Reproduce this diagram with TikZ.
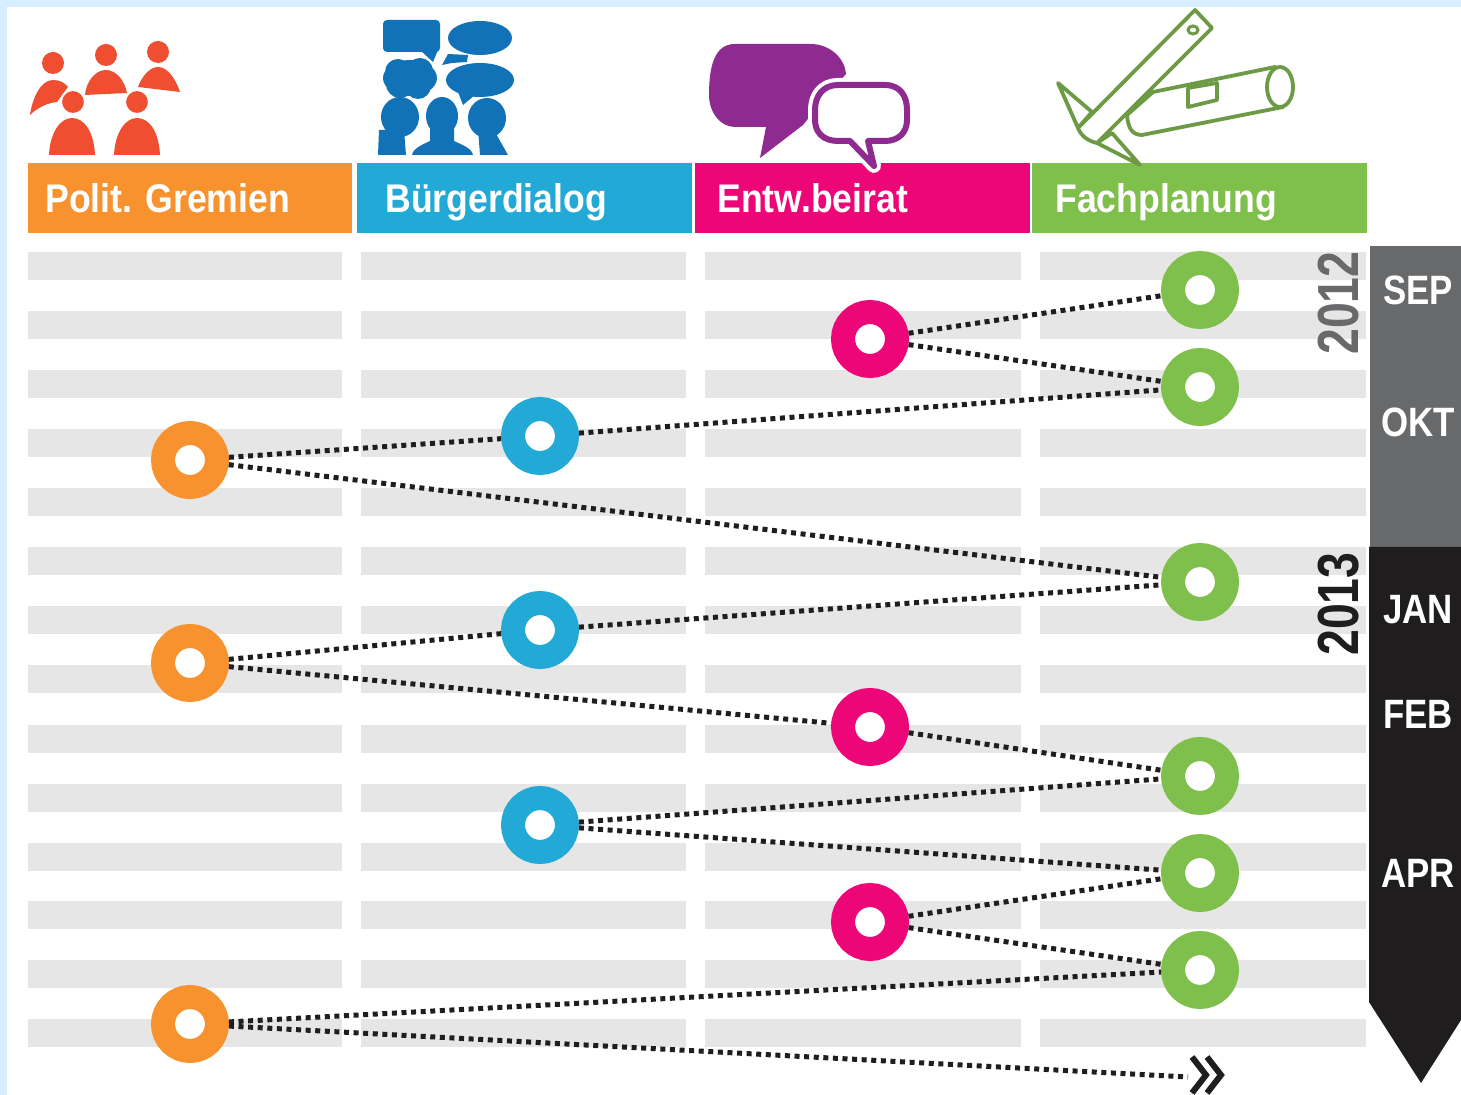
\documentclass[tikz,border=0pt]{standalone}
\usepackage{fontspec}
\setmainfont{Liberation Sans}
\newfontfamily\hdfont[FakeStretch=0.89]{Liberation Sans Bold}
\newfontfamily\mofont[FakeStretch=0.85]{Liberation Sans Bold}
\newfontfamily\yrfont[FakeStretch=0.8]{Liberation Sans Bold}
\definecolor{bgblue}{HTML}{D6EEFF}
\definecolor{cOr}{HTML}{F7922E}
\definecolor{cBl}{HTML}{22A9D6}
\definecolor{cPk}{HTML}{EC0677}
\definecolor{cGr}{HTML}{7FBF4B}
\definecolor{cBar}{HTML}{E6E6E6}
\definecolor{cPpl}{HTML}{EF4F30}
\definecolor{cTalk}{HTML}{1272B8}
\definecolor{cPur}{HTML}{8E2A90}
\definecolor{cTool}{HTML}{6D9B45}
\definecolor{cDark}{HTML}{1F1D1E}
\definecolor{cGrey}{HTML}{68696B}
\tikzset{
  ring/.style={circle,draw=#1,fill=white,line width=12pt,minimum size=27pt,inner sep=0pt},
  link/.style={line width=2.5pt,cDark,dash pattern=on 2.5pt off 2.3pt},
  headtext/.style={anchor=base west,text=white,inner sep=0pt,font=\hdfont\fontsize{20}{20}\selectfont},
  month/.style={text=white,inner sep=0pt,font=\mofont\fontsize{20.5}{20.5}\selectfont},
  yeartext/.style={rotate=90,inner sep=0pt,font=\yrfont\fontsize{29}{29}\selectfont},
  toolline/.style={draw=cTool,line width=1.9pt,line join=round,fill=white}
}
\begin{document}
\begin{tikzpicture}[x=0.5pt,y=-0.5pt]
\useasboundingbox (0,0) rectangle (1461,1095);
\fill[bgblue] (0,0) rectangle (1461,1095);
\fill[white] (7,7) rectangle (1461,1095);
% rows
\foreach \yy in {266,325,384,443,502,561,620,679,739,798,857,915,974,1033}{
  \fill[cBar] (28,\yy-14) rectangle (342,\yy+14);
  \fill[cBar] (361,\yy-14) rectangle (686,\yy+14);
  \fill[cBar] (705,\yy-14) rectangle (1021,\yy+14);
  \fill[cBar] (1040,\yy-14) rectangle (1366,\yy+14);
}
% header bars
\fill[cOr] (28,163) rectangle (352,233);
\fill[cBl] (357,163) rectangle (692,233);
\fill[cPk] (695,163) rectangle (1030,233);
\fill[cGr] (1032,163) rectangle (1367,233);
\node[headtext] (h1) at (45,213) {Polit. Gremien};
\node[headtext] (h2) at (385,213) {Bürgerdialog};
\node[headtext] (h3) at (717,213) {Entw.beirat};
\node[headtext] (h4) at (1055,213) {Fachplanung};
% people icon
\fill[cPpl] (53,63) circle (11) (106,55) circle (11) (158,52) circle (11);
\fill[cPpl] (30,115) .. controls (32,100) and (40,80) .. (53,80) .. controls (60,80) and (65,83) .. (68,87) -- (57,102) .. controls (47,103) and (37,108) .. (30,115) -- cycle;
\fill[cPpl] (85,95) .. controls (86,82) and (95,70) .. (106,70) .. controls (117,70) and (125,82) .. (127,93) -- cycle;
\fill[cPpl] (138,87) .. controls (142,76) and (150,67) .. (158,67) .. controls (168,67) and (176,80) .. (180,92) -- cycle;
\fill[cPpl] (49,155) .. controls (50,133) and (60,118) .. (72,118) .. controls (85,118) and (94,133) .. (95,155) -- cycle;
\fill[cPpl] (114,155) .. controls (115,133) and (125,118) .. (137,118) .. controls (150,118) and (159,133) .. (160,155) -- cycle;
\path[fill=cPpl,draw=white,line width=1pt] (73,102) circle (12) (137,102) circle (12);
% talking icon
\fill[cTalk,rounded corners=2pt] (383,20) rectangle (440,52);
\fill[cTalk] (420,50) -- (433,62) -- (438,50) -- cycle;
\fill[cTalk] (480,38) ellipse (32 and 17);
\fill[cTalk] (442,65) -- (448,54) -- (468,55) -- (467,62) -- (452,63) -- cycle;
\fill[cTalk] (410,78) ellipse (27 and 18) (398,72) circle (13) (420,71) circle (13) (400,84) circle (14) (418,86) circle (13);
\fill[cTalk] (480,80) ellipse (34 and 17);
\fill[cTalk] (458,92) -- (475,95) -- (463,105) -- cycle;
\fill[cTalk] (400,117) ellipse (19 and 20);
\fill[cTalk] (378,155) -- (379,130) -- (404,130) -- (406,155) -- cycle;
\fill[cTalk] (442,116) ellipse (16 and 19);
\fill[cTalk] (412,155) .. controls (413,148) and (424,144) .. (430,141) -- (430,120) -- (454,120) -- (454,141) .. controls (460,144) and (472,148) .. (473,155) -- cycle;
\fill[cTalk] (487,118) ellipse (19 and 20);
\fill[cTalk] (478,128) -- (495,132) -- (508,155) -- (480,155) -- cycle;
% bubbles
\fill[cPur] (735,44) -- (810,44) .. controls (832,44) and (845,60) .. (846,74) -- (815,110) -- (803,125) -- (760,158) -- (766,127) -- (735,127) .. controls (720,127) and (709,112) .. (709,95) .. controls (709,65) and (715,44) .. (735,44) -- cycle;
\path[draw=white,line width=7pt,line join=round,fill=white] (838,85) -- (885,85) .. controls (900,85) and (907,96) .. (907,110) -- (907,120) .. controls (907,133) and (898,141) .. (885,141) -- (868,141) -- (874,166) -- (850,141) -- (838,141) .. controls (823,141) and (815,132) .. (815,120) -- (815,110) .. controls (815,96) and (823,85) .. (838,85) -- cycle;
\path[draw=cPur,line width=3pt,line join=round,fill=white] (838,85) -- (885,85) .. controls (900,85) and (907,96) .. (907,110) -- (907,120) .. controls (907,133) and (898,141) .. (885,141) -- (868,141) -- (874,166) -- (850,141) -- (838,141) .. controls (823,141) and (815,132) .. (815,120) -- (815,110) .. controls (815,96) and (823,85) .. (838,85) -- cycle;
% tool icon
\draw[toolline] (1153,92) -- (1275,67) -- (1283,107) -- (1142,135) .. controls (1132,135) and (1128,128) .. (1127,115) -- cycle;
\draw[toolline] (1280,87) ellipse (13 and 20);
\draw[toolline] (1188,88) -- (1217,83) -- (1217,100) -- (1188,107) -- cycle;
\draw[toolline] (1058,83) -- (1092,112) -- (1078,128) -- cycle;
\draw[toolline] (1112,133) -- (1140,165) -- (1097,143) -- cycle;
\draw[toolline] (1195,10) -- (1212,28) -- (1097,143) .. controls (1088,141) and (1081,136) .. (1078,128) -- cycle;
\draw[draw=cTool,line width=1.5pt] (1193,30) ellipse (5 and 4);
% time arrow
\fill[cGrey] (1370,246) rectangle (1461,547);
\fill[cDark] (1369,547) -- (1461,547) -- (1461,1020) -- (1421,1083) -- (1369,1002) -- cycle;
\node[yeartext,text=cGrey] (y1) at (1339,303) {2012};
\node[yeartext,text=cDark] (y2) at (1339,604) {2013};
\node[month] (m1) at (1418,290) {SEP};
\node[month] (m2) at (1418,422) {OKT};
\node[month] (m3) at (1418,610) {JAN};
\node[month] (m4) at (1418,714) {FEB};
\node[month] (m5) at (1418,873) {APR};
% stations
\node[ring=cOr] (o1) at (190,460) {};
\node[ring=cOr] (o2) at (190,663) {};
\node[ring=cOr] (o3) at (190,1024) {};
\node[ring=cBl] (b1) at (540,436) {};
\node[ring=cBl] (b2) at (540,630) {};
\node[ring=cBl] (b3) at (540,825) {};
\node[ring=cPk] (p1) at (870,339) {};
\node[ring=cPk] (p2) at (870,727) {};
\node[ring=cPk] (p3) at (870,922) {};
\node[ring=cGr] (g1) at (1200,290) {};
\node[ring=cGr] (g2) at (1200,387) {};
\node[ring=cGr] (g3) at (1200,582) {};
\node[ring=cGr] (g4) at (1200,776) {};
\node[ring=cGr] (g5) at (1200,873) {};
\node[ring=cGr] (g6) at (1200,970) {};
\coordinate (fin) at (1188,1077);
% connectors
\draw[link] (p1) -- (g1);
\draw[link] (p1) -- (g2);
\draw[link] (b1) -- (g2);
\draw[link] (o1) -- (b1);
\draw[link] (o1) -- (g3);
\draw[link] (b2) -- (g3);
\draw[link] (o2) -- (b2);
\draw[link] (o2) -- (p2);
\draw[link] (p2) -- (g4);
\draw[link] (b3) -- (g4);
\draw[link] (b3) -- (g5);
\draw[link] (p3) -- (g5);
\draw[link] (p3) -- (g6);
\draw[link] (o3) -- (g6);
\draw[link] (o3) -- (fin);
% chevrons
\draw[cDark,line width=3pt] (1192,1057) -- (1206,1075) -- (1192,1093);
\draw[cDark,line width=3pt] (1207,1057) -- (1221,1075) -- (1207,1093);
\end{tikzpicture}
\end{document}
